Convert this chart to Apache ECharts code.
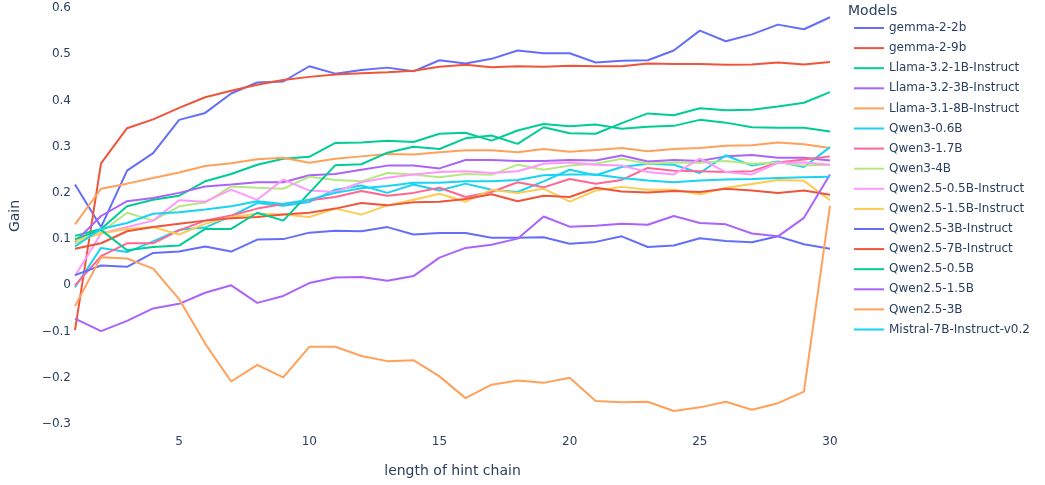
<!DOCTYPE html>
<html>
<head>
<meta charset="utf-8">
<script src="https://cdn.jsdelivr.net/npm/echarts@6/dist/echarts.min.js"></script>
<style>
  html, body { margin: 0; padding: 0; background: #fff; }
  #chart { width: 1045px; height: 485px; }
</style>
</head>
<body>
<div id="chart"></div>
<script>
const chainLengths = Array.from({length: 30}, (_, i) => i + 1);
const xTickLabels = [5, 10, 15, 20, 25, 30];

const modelNames = [
  'gemma-2-2b', 'gemma-2-9b', 'Llama-3.2-1B-Instruct', 'Llama-3.2-3B-Instruct',
  'Llama-3.1-8B-Instruct', 'Qwen3-0.6B', 'Qwen3-1.7B', 'Qwen3-4B',
  'Qwen2.5-0.5B-Instruct', 'Qwen2.5-1.5B-Instruct', 'Qwen2.5-3B-Instruct',
  'Qwen2.5-7B-Instruct', 'Qwen2.5-0.5B', 'Qwen2.5-1.5B', 'Qwen2.5-3B',
  'Mistral-7B-Instruct-v0.2'
];

const gemma2b = [0.218, 0.126, 0.248, 0.286, 0.358, 0.373, 0.415, 0.439, 0.441, 0.474, 0.458, 0.466, 0.471, 0.463, 0.487, 0.48, 0.49, 0.508, 0.502, 0.502, 0.482, 0.486, 0.487, 0.508, 0.551, 0.528, 0.543, 0.564, 0.554, 0.58];
const gemma9b = [-0.097, 0.264, 0.34, 0.359, 0.384, 0.407, 0.421, 0.434, 0.444, 0.451, 0.456, 0.459, 0.461, 0.464, 0.473, 0.477, 0.472, 0.474, 0.473, 0.475, 0.474, 0.474, 0.48, 0.479, 0.479, 0.477, 0.478, 0.482, 0.478, 0.483];
const llama1bInstruct = [0.107, 0.122, 0.171, 0.185, 0.194, 0.225, 0.241, 0.261, 0.274, 0.278, 0.308, 0.309, 0.313, 0.31, 0.328, 0.33, 0.313, 0.335, 0.349, 0.344, 0.348, 0.339, 0.343, 0.345, 0.358, 0.352, 0.342, 0.341, 0.341, 0.333];
const llama3bInstruct = [0.094, 0.15, 0.182, 0.189, 0.2, 0.214, 0.218, 0.223, 0.223, 0.238, 0.241, 0.25, 0.259, 0.259, 0.253, 0.271, 0.271, 0.269, 0.269, 0.271, 0.27, 0.281, 0.268, 0.271, 0.269, 0.279, 0.282, 0.276, 0.276, 0.27];
const llama8bInstruct = [0.132, 0.209, 0.22, 0.232, 0.244, 0.258, 0.264, 0.273, 0.276, 0.265, 0.274, 0.279, 0.284, 0.283, 0.288, 0.292, 0.292, 0.288, 0.295, 0.289, 0.293, 0.297, 0.29, 0.295, 0.297, 0.302, 0.303, 0.309, 0.305, 0.297];
const qwen3_06b = [-0.004, 0.081, 0.072, 0.095, 0.12, 0.125, 0.15, 0.178, 0.172, 0.18, 0.207, 0.216, 0.2, 0.218, 0.205, 0.22, 0.207, 0.202, 0.225, 0.25, 0.238, 0.256, 0.263, 0.261, 0.243, 0.281, 0.259, 0.268, 0.256, 0.299];
const qwen3_17b = [0.0, 0.063, 0.091, 0.091, 0.119, 0.14, 0.151, 0.166, 0.176, 0.184, 0.191, 0.204, 0.194, 0.2, 0.211, 0.191, 0.202, 0.223, 0.212, 0.23, 0.22, 0.228, 0.254, 0.248, 0.247, 0.245, 0.247, 0.266, 0.272, 0.279];
const qwen3_4b = [0.09, 0.115, 0.157, 0.14, 0.171, 0.179, 0.214, 0.211, 0.209, 0.235, 0.228, 0.225, 0.243, 0.24, 0.234, 0.241, 0.239, 0.261, 0.25, 0.259, 0.263, 0.274, 0.263, 0.266, 0.265, 0.269, 0.263, 0.266, 0.259, 0.261];
const qwen25_05bInstruct = [0.02, 0.112, 0.126, 0.14, 0.184, 0.181, 0.207, 0.185, 0.229, 0.205, 0.202, 0.223, 0.233, 0.24, 0.245, 0.247, 0.243, 0.247, 0.263, 0.266, 0.261, 0.259, 0.245, 0.24, 0.274, 0.245, 0.24, 0.265, 0.266, 0.261];
const qwen25_15bInstruct = [0.097, 0.112, 0.122, 0.126, 0.11, 0.133, 0.148, 0.155, 0.153, 0.148, 0.166, 0.153, 0.173, 0.185, 0.198, 0.181, 0.207, 0.2, 0.209, 0.181, 0.205, 0.213, 0.207, 0.207, 0.197, 0.211, 0.219, 0.228, 0.226, 0.184];
const qwen25_3bInstruct = [0.022, 0.043, 0.04, 0.07, 0.073, 0.084, 0.073, 0.099, 0.1, 0.114, 0.118, 0.117, 0.126, 0.11, 0.113, 0.113, 0.103, 0.103, 0.104, 0.09, 0.094, 0.106, 0.083, 0.086, 0.102, 0.096, 0.093, 0.106, 0.089, 0.079];
const qwen25_7bInstruct = [0.079, 0.091, 0.117, 0.126, 0.133, 0.14, 0.145, 0.148, 0.153, 0.157, 0.166, 0.178, 0.173, 0.18, 0.181, 0.187, 0.197, 0.182, 0.194, 0.191, 0.211, 0.203, 0.201, 0.204, 0.202, 0.209, 0.205, 0.2, 0.205, 0.196];
const qwen25_05b = [0.1, 0.12, 0.076, 0.083, 0.086, 0.122, 0.122, 0.157, 0.14, 0.2, 0.26, 0.262, 0.287, 0.3, 0.295, 0.318, 0.324, 0.306, 0.342, 0.329, 0.328, 0.351, 0.372, 0.368, 0.383, 0.379, 0.38, 0.387, 0.395, 0.418];
const qwen25_15b = [-0.072, -0.099, -0.077, -0.05, -0.04, -0.016, 0.0, -0.038, -0.023, 0.005, 0.017, 0.018, 0.01, 0.02, 0.06, 0.081, 0.088, 0.101, 0.149, 0.127, 0.129, 0.133, 0.131, 0.15, 0.135, 0.132, 0.112, 0.106, 0.146, 0.24];
const qwen25_3b = [-0.045, 0.061, 0.058, 0.036, -0.03, -0.126, -0.208, -0.172, -0.199, -0.133, -0.133, -0.153, -0.164, -0.162, -0.197, -0.244, -0.215, -0.206, -0.211, -0.2, -0.25, -0.253, -0.252, -0.272, -0.264, -0.252, -0.269, -0.255, -0.23, 0.172];
const mistral7bInstruct = [0.084, 0.122, 0.135, 0.155, 0.158, 0.164, 0.171, 0.182, 0.176, 0.185, 0.2, 0.21, 0.215, 0.222, 0.222, 0.225, 0.225, 0.228, 0.238, 0.24, 0.24, 0.232, 0.227, 0.223, 0.227, 0.229, 0.23, 0.232, 0.234, 0.235];

const gains = [
  gemma2b, gemma9b, llama1bInstruct, llama3bInstruct, llama8bInstruct,
  qwen3_06b, qwen3_17b, qwen3_4b, qwen25_05bInstruct, qwen25_15bInstruct,
  qwen25_3bInstruct, qwen25_7bInstruct, qwen25_05b, qwen25_15b, qwen25_3b,
  mistral7bInstruct
];

// plotly default colour cycle
const colors = ['#636efa', '#EF553B', '#00cc96', '#ab63fa', '#FFA15A', '#19d3f3',
  '#FF6692', '#B6E880', '#FF97FF', '#FECB52'];

const textColor = '#2a3f5f';
const font = '"DejaVu Sans", verdana, arial, sans-serif';

const chart = echarts.init(document.getElementById('chart'));

const option = {
  animation: false,
  color: modelNames.map((_, i) => colors[i % colors.length]),
  title: {
    text: 'Models',
    left: 843,
    top: -1,
    textStyle: {color: textColor, fontSize: 14, fontWeight: 'normal', fontFamily: font}
  },
  legend: {
    orient: 'vertical',
    left: 848,
    top: 17,
    itemWidth: 30,
    itemHeight: 12,
    itemGap: 8.1,
    itemStyle: {opacity: 0},
    textStyle: {color: textColor, fontSize: 12, fontFamily: font},
    data: modelNames
  },
  grid: {
    left: 73,
    right: 215,
    top: 8,
    bottom: 61
  },
  xAxis: {
    type: 'value',
    min: 1,
    max: 30,
    name: 'length of hint chain',
    nameLocation: 'middle',
    nameGap: 40,
    nameTextStyle: {color: textColor, fontSize: 14, fontFamily: font},
    axisLine: {show: false},
    axisTick: {show: false},
    splitLine: {show: false},
    axisLabel: {
      customValues: xTickLabels,
      margin: 12,
      color: textColor,
      fontSize: 12,
      fontFamily: font
    }
  },
  yAxis: {
    type: 'value',
    min: -0.3,
    max: 0.6,
    interval: 0.1,
    name: 'Gain',
    nameLocation: 'middle',
    nameGap: 53,
    nameTextStyle: {color: textColor, fontSize: 14, fontFamily: font},
    axisLine: {show: false},
    axisTick: {show: false},
    splitLine: {show: false},
    axisLabel: {
      margin: 4,
      color: textColor,
      fontSize: 12,
      fontFamily: font,
      formatter: (v) => {
        const s = String(Math.round(v * 10) / 10);
        return s.replace('-', '\u2212');
      }
    }
  },
  series: modelNames.map((name, i) => ({
    name: name,
    type: 'line',
    symbol: 'none',
    lineStyle: {width: 2},
    data: chainLengths.map((x, j) => [x, gains[i][j]])
  }))
};

chart.setOption(option);
</script>
</body>
</html>
